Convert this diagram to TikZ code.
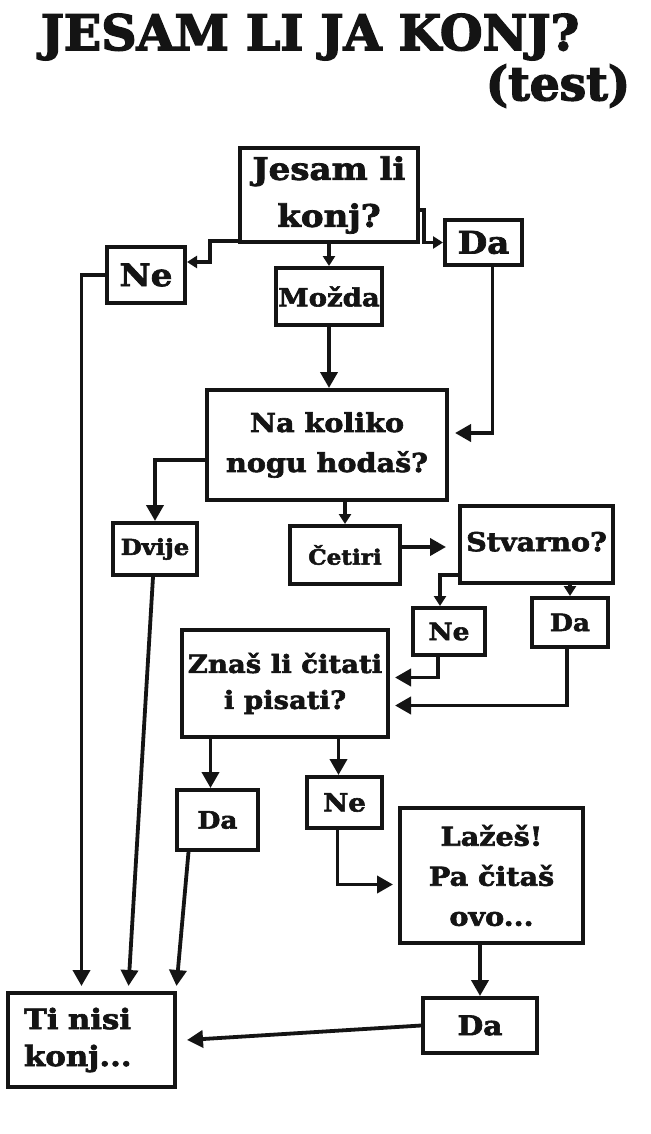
\documentclass[tikz,border=0pt]{standalone}
\usepackage{fontspec}
\setmainfont{DejaVu Serif}
\newfontfamily\titlefont{DejaVu Serif}[BoldFeatures={FakeBold=3}]
\newfontfamily\boxfont{DejaVu Serif}[BoldFeatures={FakeBold=2.4,FakeStretch=1.1}]
\usetikzlibrary{arrows.meta,calc}
\definecolor{ink}{HTML}{141414}
\newcommand{\fs}[2]{\boxfont\fontsize{#1}{#2}\selectfont\bfseries}
\newcommand{\ft}[2]{\titlefont\fontsize{#1}{#2}\selectfont\bfseries}
\tikzset{
  box/.style={draw=ink, line width=4pt, rectangle, inner sep=0pt, align=center, text=ink},
  conn/.style={draw=ink, line width=3.8pt, -{Triangle[length=16pt,width=17pt]}},
  connS/.style={draw=ink, line width=3.2pt, -{Triangle[length=10pt,width=12pt]}},
  ttl/.style={text=ink, inner sep=0pt}
}
\begin{document}
\begin{tikzpicture}[x=1pt,y=-1pt]
\useasboundingbox[fill=white] (0,0) rectangle (650,1134);
% title
\node[ttl, font={\ft{49}{56}}] (title) at (310,37) {JESAM LI JA KONJ?};
\node[ttl, font={\ft{47}{54}}] (test) at (558,86) {(test)};
% boxes
\node[box, minimum width=178pt, minimum height=94pt, font={\fs{31}{47}}] (q1) at (329,195) {Jesam li\\konj?};
\node[box, minimum width=78pt, minimum height=56pt, font={\fs{31}{36}}] (neA) at (146,275) {Ne};
\node[box, minimum width=77pt, minimum height=45pt, font={\fs{31}{36}}] (daA) at (483.5,242.5) {Da};
\node[box, minimum width=106pt, minimum height=57pt, font={\fs{25}{30}}] (mozda) at (329,296.5) {Možda};
\node[box, minimum width=240pt, minimum height=110pt, font={\fs{26}{40}}] (q2) at (327,445) {Na koliko\\nogu hodaš?};
\node[box, minimum width=84pt, minimum height=52pt, font={\fs{22}{26}}] (dvije) at (155,549) {Dvije};
\node[box, minimum width=110pt, minimum height=58pt, font={\fs{21}{26}}] (cetiri) at (345,555) {Četiri};
\node[box, minimum width=153pt, minimum height=77pt, font={\fs{26}{30}}] (stvarno) at (536.5,544.5) {\raisebox{6pt}{Stvarno?}};
\node[box, minimum width=72pt, minimum height=47pt, font={\fs{24}{28}}] (neB) at (449,631.5) {Ne};
\node[box, minimum width=76pt, minimum height=49pt, font={\fs{24}{28}}] (daB) at (570,622.5) {Da};
\node[box, minimum width=206pt, minimum height=107pt, font={\fs{25}{36}}] (q3) at (285,683.5) {Znaš li čitati\\i pisati?};
\node[box, minimum width=81pt, minimum height=60pt, font={\fs{24}{28}}] (daC) at (217.5,820) {Da};
\node[box, minimum width=75pt, minimum height=51pt, font={\fs{25}{28}}] (neC) at (344.5,802.5) {Ne};
\node[box, minimum width=183pt, minimum height=135pt, font={\fs{26}{40}}] (lazes) at (491.5,875.5) {Lažeš!\\Pa čitaš\\ovo...};
\node[box, minimum width=114pt, minimum height=55pt, font={\fs{27}{30}}] (daD) at (480,1025.5) {Da};
\node[box, minimum width=167pt, minimum height=94pt, align=left, text width=135pt, font={\fs{28}{37}}] (tinisi) at (91.5,1040) {Ti nisi\\konj...};
% connectors
\draw[connS] ([yshift=3pt]q1.south west) -| ([xshift=23pt,yshift=13pt]neA.east) -- ([yshift=13pt]neA.east);
\draw[connS] ([yshift=-15pt]q1.east) -| ([xshift=-19pt]daA.west) -- (daA.west);
\draw[connS] (q1.south) -- (mozda.north);
\draw[conn] (mozda.south) -- (mozda.south |- q2.north);
\draw[conn] ([xshift=9pt]daA.south) |- ([yshift=12pt,xshift=6pt]q2.east);
\draw[conn] ([yshift=-15pt]q2.west) -| (dvije.north);
\draw[connS] (q2.south -| cetiri.north) -- (cetiri.north);
\draw[conn] ([yshift=8pt]cetiri.east) -- ([yshift=8pt,xshift=-12pt]cetiri.east -| stvarno.west);
\draw[connS] ([yshift=10pt]stvarno.south west) -| ([xshift=-9pt]neB.north);
\draw[connS] (daB.north |- stvarno.south) -- (daB.north);
\draw[conn] ([xshift=-11pt]neB.south) |- ([yshift=6pt,xshift=5pt]q3.east);
\draw[conn] ([xshift=-3pt]daB.south) |- ([yshift=-22pt,xshift=5pt]q3.east);
\draw[conn] ([xshift=-7pt]daC.north |- q3.south) -- ([xshift=-7pt]daC.north);
\draw[conn] ([xshift=-6pt]neC.north |- q3.south) -- ([xshift=-6pt]neC.north);
\draw[conn] ([xshift=-7pt]neC.south) |- ([yshift=-9pt,xshift=-5pt]lazes.west);
\draw[conn] (daD.north |- lazes.south) -- (daD.north);
\draw[conn] (daD.west) -- ([xshift=10pt]tinisi.east);
\draw[conn] (neA.west) -| ([xshift=-10pt,yshift=5pt]tinisi.north);
\draw[conn] ([xshift=-2pt]dvije.south) -- ([xshift=37pt,yshift=5pt]tinisi.north);
\draw[conn] ([xshift=-29pt]daC.south) -- ([xshift=85pt,yshift=5pt]tinisi.north);
\end{tikzpicture}
\end{document}
